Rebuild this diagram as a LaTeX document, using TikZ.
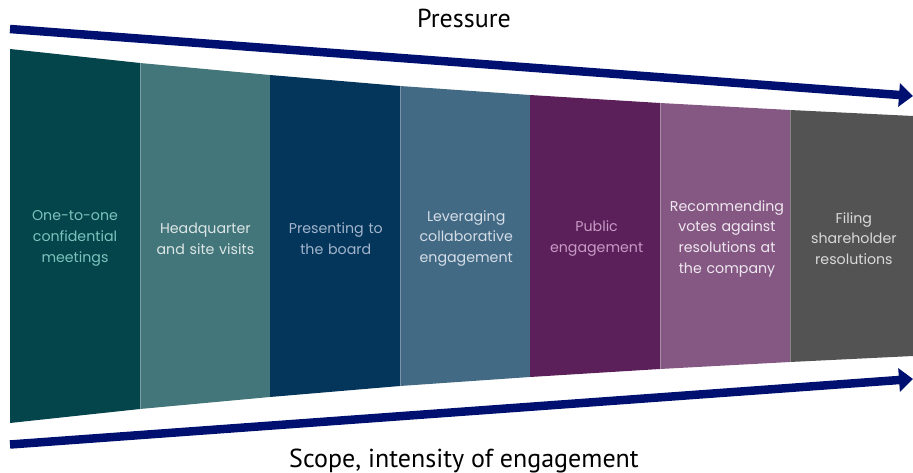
\documentclass[tikz,border=0pt]{standalone}
\usepackage{fontspec}
\setmainfont{Poppins}
\newfontfamily\labelfont{PT Sans}
\usetikzlibrary{positioning,arrows.meta}

\definecolor{arrowblue}{HTML}{001070}
\definecolor{fillA}{HTML}{04454B}
\definecolor{fillB}{HTML}{43767A}
\definecolor{fillC}{HTML}{03365A}
\definecolor{fillD}{HTML}{426A85}
\definecolor{fillE}{HTML}{5B1F5A}
\definecolor{fillF}{HTML}{845883}
\definecolor{fillG}{HTML}{535353}
\definecolor{textA}{HTML}{7CC3BD}
\definecolor{textB}{HTML}{DDE6E6}
\definecolor{textC}{HTML}{A3B4CC}
\definecolor{textD}{HTML}{D5DDE6}
\definecolor{textE}{HTML}{C79AC5}
\definecolor{textF}{HTML}{F0E8F0}
\definecolor{textG}{HTML}{D9D9D9}

\begin{document}
\begin{tikzpicture}[x = 1pt, y = -1pt,
        stage/.style = {minimum width = 130pt, text width = 124pt, inner xsep = 3pt, inner ysep = 0pt, align = center, font = \fontsize{14.2}{20.7}\selectfont},
        push/.style = {draw = arrowblue, line width = 8.5pt, -{Triangle[length = 14pt, width = 23pt]}},
        seam/.style = {draw = white, draw opacity = 0.3, line width = 0.6pt}]
        \useasboundingbox (0,0) rectangle (913,473);

        % funnel blocks
        \fill[fillA] (10,49) -- (140,63) -- (140,409) -- (10,423) -- cycle;
        \fill[fillB] (140,63) -- (270,75) -- (270,397) -- (140,409) -- cycle;
        \fill[fillC] (270,75) -- (400,86) -- (400,386) -- (270,397) -- cycle;
        \fill[fillD] (400,86) -- (530,95) -- (530,377) -- (400,386) -- cycle;
        \fill[fillE] (530,95) -- (660,103) -- (660,369) -- (530,377) -- cycle;
        \fill[fillF] (660,103) -- (790,110) -- (790,362) -- (660,369) -- cycle;
        \fill[fillG] (790,110) -- (913,116) -- (913,356) -- (790,362) -- cycle;
        \draw[seam] (140,63) -- (140,409);
        \draw[seam] (400,86) -- (400,386);
        \draw[seam] (660,103) -- (660,369);
        \draw[seam] (790,110) -- (790,362);

        \node [stage, text = textA] (meet) at (75,238.5) {One-to-one\\confidential\\meetings};
        \node [stage, text = textB] (visit) [right = 0pt of meet] {Headquarter\\and site visits};
        \node [stage, text = textC] (board) [right = 0pt of visit] {Presenting to\\the board};
        \node [stage, text = textD] (collab) [right = 0pt of board] {Leveraging\\collaborative\\engagement};
        \node [stage, text = textE] (public) [right = 0pt of collab] {Public\\engagement};
        \node [stage, text = textF] (votes) [right = 0pt of public] {Recommending\\votes against\\resolutions at\\the company};
        \node [stage, text = textG, minimum width = 123pt, text width = 117pt] (filing) [right = 0pt of votes] {Filing\\shareholder\\resolutions};

        % arrows and their labels
        \coordinate (pstart) at (10,29);
        \coordinate (pend) at (913,96);
        \coordinate (sstart) at (10,444.5);
        \coordinate (send) at (913,379);
        \draw[push] (pstart) -- (pend);
        \draw[push] (sstart) -- (send);

        \node [font = \labelfont\fontsize{26}{30}\selectfont, anchor = base] (pressure) at (464,28) {Pressure};
        \node [font = \labelfont\fontsize{26}{30}\selectfont, anchor = base] (scope) at (464,467) {Scope, intensity of engagement};
\end{tikzpicture}
\end{document}
